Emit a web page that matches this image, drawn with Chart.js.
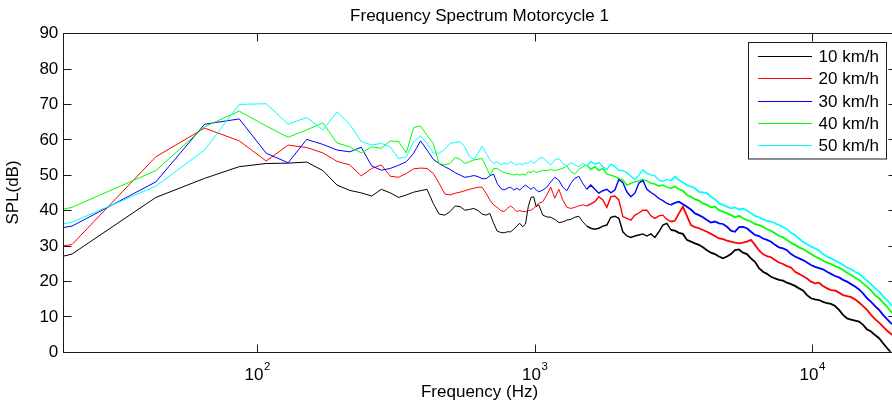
<!DOCTYPE html>
<html>
<head>
<meta charset="utf-8">
<script src="https://cdn.jsdelivr.net/npm/chart.js@4.4.1/dist/chart.umd.min.js"></script>
<style>
  html, body { margin:0; padding:0; background:#fff; overflow:hidden; width:892px; height:409px; }
  #wrap { position:absolute; left:0; top:0; width:900px; height:409px; }
</style>
</head>
<body>
<div id="wrap"><canvas id="c" width="900" height="409"></canvas></div>
<script>
// ---- data ----
const freqHz = [
  20, 21.5, 43.1, 64.6, 86.1, 107.7, 129.2, 150.7, 172.3, 193.8, 215.3, 236.9, 258.4, 279.9, 301.5, 323, 344.5,
  366.1, 387.6, 409.1, 430.7, 452.2, 473.7, 495.3, 516.8, 538.3, 559.9, 581.4, 603, 624.5, 646, 667.5, 689,
  710.6, 732.1, 753.6, 775.2, 796.7, 818.3, 839.8, 861.3, 882.9, 904.4, 925.9, 947.5, 969, 990.5, 1012, 1034,
  1069, 1105, 1142, 1181, 1221, 1262, 1305, 1349, 1394, 1441, 1490, 1540, 1592, 1646, 1702, 1759, 1819, 1880,
  1944, 2009, 2077, 2147, 2220, 2295, 2372,
  2452, 2535, 2621, 2709, 2801, 2895, 2993, 3094, 3199, 3307, 3419, 3534, 3654, 3777, 3905, 4036, 4173, 4314,
  4460, 4610, 4766, 4927, 5093, 5265, 5443, 5627, 5817, 6013, 6217, 6427, 6644, 6868, 7100, 7340, 7588, 7844,
  8109, 8383, 8666, 8959, 9261, 9574, 9897, 10232, 10577, 10934, 11304, 11686, 12080, 12488, 12910, 13346,
  13797, 14263, 14745, 15243, 15758, 16290, 16840, 17409, 17997, 18605, 19233, 20000
];

const spl10 = [
  27.0, 27.6, 43.6, 49.0, 52.3, 53.2, 53.3, 53.6, 51.2, 47.1, 45.6, 44.9, 44.0, 45.9, 44.9, 43.6, 44.3,
  45.1, 45.5, 45.9, 41.9, 38.9, 38.6, 39.6, 41.2, 41.0, 40.0, 40.2, 40.5, 39.9, 38.9, 38.6, 39.1,
  36.3, 34.1, 33.7, 33.6, 33.9, 33.9, 34.6, 35.5, 36.3, 35.3, 36.1, 41.0, 43.6, 43.8, 41.0, 41.5,
  38.6, 38.1, 38.0, 37.4, 36.5, 36.7, 37.2, 37.4, 38.0, 38.3, 36.7, 35.5, 34.9, 34.6, 34.9, 35.5, 35.8, 38.0,
  38.3, 37.7, 33.9, 32.7, 32.3, 32.7, 33.0,
  33.3, 32.7, 33.3, 32.3, 33.9, 35.8, 36.3, 34.4, 34.2, 33.6, 33.3, 31.6, 31.1, 30.6, 30.2, 29.5, 28.7, 28.0,
  27.6, 26.9, 26.4, 26.9, 27.6, 28.7, 28.9, 28.0, 27.6, 26.4, 25.4, 23.6, 22.6, 22.0, 21.2, 20.7, 20.3, 20.1,
  19.5, 19.1, 18.6, 17.9, 17.3, 16.0, 15.1, 14.8, 14.6, 14.1, 13.7, 13.5, 12.9, 11.8, 10.4, 9.4,
  9.1, 8.8, 8.5, 7.6, 6.3, 5.7, 4.7, 3.8, 2.4, 1.0, -0.3, -1.5
];

const spl20 = [
  29.9, 30.3, 55.1, 63.2, 59.6, 53.9, 58.4, 57.7, 56.2, 53.8, 52.8, 49.7, 51.8, 52.8, 49.6, 49.3, 50.4,
  51.7, 51.9, 51.8, 50.4, 47.6, 44.6, 44.3, 44.8, 45.1, 45.5, 45.9, 46.2, 46.5, 46.5, 44.8, 42.9,
  41.5, 40.8, 39.9, 39.6, 40.5, 41.2, 40.5, 39.6, 39.9, 39.6, 39.6, 39.9, 40.0, 40.5, 41.2, 41.9,
  42.4, 44.3, 46.5, 43.4, 45.9, 42.9, 40.8, 40.5, 40.8, 41.2, 41.5, 41.2, 41.8, 42.4, 43.8, 42.9, 40.8, 43.8,
  44.0, 42.9, 38.2, 37.7, 37.2, 38.6, 39.2,
  40.0, 40.0, 38.4, 37.7, 38.4, 38.6, 37.4, 36.8, 37.0, 39.1, 41.0, 38.4, 35.8, 35.2, 34.9, 34.4, 33.9, 33.3,
  32.7, 32.0, 31.8, 31.4, 31.1, 30.8, 30.6, 30.8, 31.1, 31.6, 30.2, 28.6, 27.6, 27.0, 26.7, 25.9, 25.2, 24.8,
  24.2, 23.8, 22.6, 22.0, 21.4, 20.7, 19.8, 19.3, 19.5, 18.6, 17.9, 17.4, 17.3, 16.7, 16.0, 15.7,
  15.4, 14.8, 13.9, 12.9, 11.8, 10.4, 9.2, 8.2, 7.1, 5.9, 5.0, 4.0
];

const spl30 = [
  35.1, 35.5, 48.0, 64.3, 65.8, 56.1, 53.4, 60.0, 58.6, 57.0, 56.5, 57.8, 52.5, 51.3, 51.8, 52.7, 53.7,
  56.1, 59.6, 57.0, 54.4, 53.2, 52.3, 51.5, 50.6, 49.9, 49.3, 49.5, 49.8, 49.5, 48.9, 48.9, 49.7,
  50.2, 47.6, 46.2, 45.7, 46.2, 46.5, 45.7, 46.2, 45.7, 46.5, 47.1, 46.5, 45.9, 46.5, 45.7, 45.2,
  45.7, 46.5, 48.0, 49.3, 48.5, 46.5, 45.5, 47.6, 49.0, 49.6, 47.6, 45.9, 47.1, 45.9, 44.8, 45.5, 45.9, 44.9,
  45.7, 48.7, 47.8, 45.2, 43.8, 44.8, 47.6,
  48.5, 45.9, 45.0, 44.3, 43.3, 42.7, 41.9, 41.5, 42.1, 42.4, 41.7, 41.0, 40.2, 39.1, 38.6, 38.0, 37.2, 36.5,
  36.8, 36.3, 36.1, 35.3, 34.2, 33.9, 35.2, 35.3, 34.9, 33.9, 33.0, 32.7, 32.0, 31.6, 31.1, 30.2, 29.5, 29.2,
  28.7, 27.6, 26.9, 26.4, 25.9, 25.2, 24.5, 24.0, 23.6, 23.3, 22.6, 22.0, 21.4, 21.0, 20.3, 19.8,
  19.1, 18.4, 17.6, 16.5, 15.1, 14.1, 12.9, 11.8, 10.4, 9.2, 8.0, 7.2
];

const spl40 = [
  40.3, 40.8, 51.2, 63.6, 68.0, 63.8, 60.6, 62.7, 64.7, 59.0, 57.9, 56.2, 57.9, 57.5, 59.6, 59.4, 56.2,
  63.4, 63.8, 61.2, 58.9, 53.2, 52.8, 53.2, 54.9, 54.4, 53.2, 53.7, 54.2, 54.4, 54.6, 52.3, 49.9,
  51.8, 51.8, 51.2, 50.6, 50.4, 50.2, 49.9, 50.2, 49.9, 50.2, 49.9, 50.9, 50.6, 51.2, 50.6, 50.9,
  51.3, 51.2, 51.5, 51.2, 51.5, 51.8, 52.5, 50.9, 50.2, 51.5, 52.3, 52.8, 51.5, 52.3, 51.2, 51.8, 50.2, 49.9,
  49.5, 49.0, 48.5, 47.1, 47.6, 48.0, 48.3,
  48.7, 48.3, 47.6, 47.4, 46.8, 47.1, 46.5, 46.2, 46.7, 45.9, 45.5, 44.3, 43.8, 43.1, 42.7, 41.9, 41.5, 40.8,
  41.0, 40.0, 39.6, 39.1, 38.6, 38.0, 38.4, 37.7, 37.2, 36.8, 36.1, 35.8, 35.3, 34.6, 34.2, 33.5, 32.7, 32.3,
  31.6, 30.8, 30.2, 29.5, 29.0, 28.3, 27.6, 26.9, 26.4, 25.7, 25.2, 24.8, 24.2, 23.8, 23.1, 22.3,
  21.7, 21.0, 20.3, 19.3, 18.4, 17.3, 16.0, 15.1, 13.9, 12.7, 11.3, 10.3
];

const spl50 = [
  36.1, 36.6, 46.8, 57.0, 69.9, 70.1, 64.3, 66.2, 62.7, 67.8, 64.3, 59.4, 58.4, 58.9, 57.9, 54.6, 55.1,
  59.4, 61.0, 58.9, 56.2, 56.1, 57.2, 58.9, 59.1, 59.4, 57.9, 55.1, 54.4, 56.1, 58.1, 56.1, 54.2,
  53.2, 53.7, 52.8, 53.4, 53.0, 53.7, 53.2, 52.8, 53.2, 52.8, 53.4, 53.2, 54.0, 53.2, 53.7, 54.6,
  54.9, 53.7, 52.8, 54.2, 54.6, 53.2, 52.5, 53.4, 52.8, 52.3, 53.2, 52.5, 53.7, 53.0, 53.4, 52.3, 51.5, 53.0,
  52.3, 51.3, 51.2, 50.6, 49.6, 48.7, 49.9,
  51.4, 50.4, 50.0, 49.7, 48.5, 48.1, 48.7, 48.3, 49.5, 48.5, 47.8, 47.1, 46.7, 46.2, 45.2, 45.0, 44.8, 43.8,
  43.1, 41.9, 41.5, 41.0, 40.5, 40.8, 40.2, 40.4, 39.9, 39.1, 38.4, 38.0, 37.4, 37.0, 36.8, 36.3, 35.8, 35.2,
  34.6, 33.6, 33.0, 32.0, 31.1, 30.4, 29.7, 29.2, 28.6, 27.6, 26.9, 26.4, 25.7, 25.2, 24.5, 23.8,
  23.3, 22.6, 22.0, 21.0, 20.1, 19.1, 17.9, 17.0, 15.7, 14.6, 13.2, 12.4
];

const seriesLabels = ['10 km/h', '20 km/h', '30 km/h', '40 km/h', '50 km/h'];
const seriesColors = ['#000000', '#ff0000', '#0000ff', '#00ff00', '#00ffff'];
const seriesValues = [spl10, spl20, spl30, spl40, spl50];

const yTickValues = [0, 10, 20, 30, 40, 50, 60, 70, 80, 90];
const xTickValues = [100, 1000, 10000];
const xTickMantissa = ['10', '10', '10'];
const xTickExponents = ['2', '3', '4'];

const titleText = 'Frequency Spectrum Motorcycle 1';
const xTitleText = 'Frequency (Hz)';
const yTitleText = 'SPL(dB)';

// ---- chart ----
const FONT = "'Liberation Sans', Arial, Helvetica, sans-serif";

const datasets = seriesValues.map((vals, i) => ({
  label: seriesLabels[i],
  data: freqHz.map((f, k) => ({ x: f, y: vals[k] })),
  borderColor: seriesColors[i],
  backgroundColor: seriesColors[i],
  borderWidth: 1,
  pointRadius: 0,
  tension: 0,
  fill: false,
  order: seriesValues.length - i,
  segment: {
    // dense, noisy spectrum at high frequency renders as a thicker band
    borderWidth: c => (c.p0.parsed.x > 3000 ? 1.8 : (c.p0.parsed.x > 1500 ? 1.4 : 1))
  }
}));

function seg(ctx, x1, y1, x2, y2) {
  ctx.beginPath(); ctx.moveTo(x1, y1); ctx.lineTo(x2, y2); ctx.stroke();
}
const snap = v => Math.round(v) + 0.5;

const matlabAxes = {
  id: 'matlabAxes',
  afterDraw(chart) {
    const ctx = chart.ctx;
    const a = chart.chartArea;
    const xs = chart.scales.x, ys = chart.scales.y;
    const L = snap(a.left), R = snap(a.right), T = snap(a.top), B = snap(a.bottom);
    ctx.save();
    ctx.strokeStyle = '#1a1a1a';
    ctx.lineWidth = 1;
    ctx.strokeRect(L, T, R - L, B - T);
    const tl = 8;
    yTickValues.forEach(v => {
      const py = snap(ys.getPixelForValue(v));
      seg(ctx, L, py, L + tl, py);
      seg(ctx, R, py, R - tl, py);
    });
    xTickValues.forEach(v => {
      const px = snap(xs.getPixelForValue(v));
      seg(ctx, px, B, px, B - tl);
      seg(ctx, px, T, px, T + tl);
    });
    // tick labels
    ctx.fillStyle = '#000';
    ctx.font = '17px ' + FONT;
    ctx.textAlign = 'right';
    ctx.textBaseline = 'middle';
    yTickValues.forEach(v => {
      ctx.fillText(String(v), a.left - 5, ys.getPixelForValue(v) + 0.5);
    });
    ctx.textBaseline = 'alphabetic';
    xTickValues.forEach((v, i) => {
      const px = xs.getPixelForValue(v);
      ctx.font = '17px ' + FONT;
      const w1 = ctx.measureText(xTickMantissa[i]).width;
      ctx.font = '11.5px ' + FONT;
      const w2 = ctx.measureText(xTickExponents[i]).width;
      const x0 = px - (w1 + w2) / 2;
      ctx.textAlign = 'left';
      ctx.font = '17px ' + FONT;
      ctx.fillText(xTickMantissa[i], x0, 379.5);
      ctx.font = '11.5px ' + FONT;
      ctx.fillText(xTickExponents[i], x0 + w1 + 0.5, 370);
    });
    // titles
    const cx = (a.left + a.right) / 2;
    ctx.font = '17px ' + FONT;
    ctx.textAlign = 'center';
    ctx.fillText(titleText, cx, 20.5);
    ctx.fillText(xTitleText, cx, 397);
    ctx.save();
    ctx.translate(17.5, (a.top + a.bottom) / 2);
    ctx.rotate(-Math.PI / 2);
    ctx.fillText(yTitleText, 0, 0);
    ctx.restore();
    // legend
    const lx = 748.5, ly = 42.5, lw = 138, lh = 116.5;
    ctx.fillStyle = '#ffffff';
    ctx.fillRect(lx, ly, lw, lh);
    ctx.strokeStyle = '#1a1a1a';
    ctx.lineWidth = 1;
    ctx.strokeRect(lx, ly, lw, lh);
    ctx.textAlign = 'left';
    ctx.textBaseline = 'middle';
    seriesLabels.forEach((lab, i) => {
      const ry = Math.round(56 + i * 22.3) + 0.5;
      ctx.strokeStyle = seriesColors[i];
      ctx.lineWidth = 1;
      seg(ctx, 758, ry, 812, ry);
      ctx.fillStyle = '#000000';
      ctx.font = '17px ' + FONT;
      ctx.fillText(lab, 818.5, ry + 0.5);
    });
    ctx.restore();
  }
};

new Chart(document.getElementById('c'), {
  type: 'line',
  data: { datasets },
  options: {
    responsive: false,
    animation: false,
    events: [],
    layout: { padding: { left: 63.3, top: 33.3, right: 900 - 895.8, bottom: 409 - 351.7 } },
    plugins: { legend: { display: false }, title: { display: false }, tooltip: { enabled: false } },
    scales: {
      x: { type: 'logarithmic', min: 20, max: 20000, display: false },
      y: { type: 'linear', min: 0, max: 90, display: false }
    }
  },
  plugins: [matlabAxes]
});
</script>
</body>
</html>
